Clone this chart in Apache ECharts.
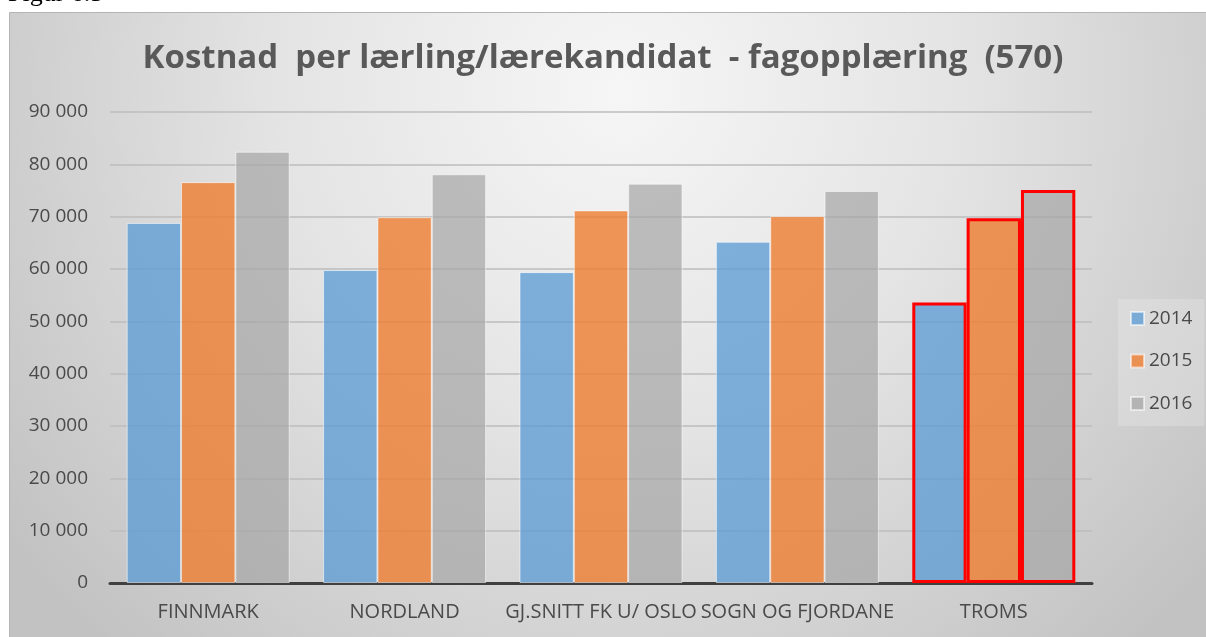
<!DOCTYPE html>
<html>
<head>
<meta charset="utf-8">
<script src="https://cdn.jsdelivr.net/npm/echarts@6/dist/echarts.min.js"></script>
<style>
html,body{margin:0;padding:0;background:#ffffff;}
#chart{width:1206px;height:637px;}
</style>
</head>
<body>
<div id="chart"></div>
<script>
const titleText = 'Kostnad  per lærling/lærekandidat  - fagopplæring  (570)';
const categories = ['FINNMARK', 'NORDLAND', 'GJ.SNITT FK U/ OSLO', 'SOGN OG FJORDANE', 'TROMS'];
const seriesNames = ['2014', '2015', '2016'];
const values2014 = [68800, 59800, 59400, 65200, 53600];
const values2015 = [76600, 69900, 71200, 70100, 69700];
const values2016 = [82400, 78100, 76300, 74900, 75100];
const highlighted = ['TROMS'];
const yTicks = [0, 10000, 20000, 30000, 40000, 50000, 60000, 70000, 80000, 90000];

const colors = ['rgba(91,155,213,0.76)', 'rgba(237,125,49,0.8)', 'rgba(165,165,165,0.7)'];
const allValues = [values2014, values2015, values2016];

const chart = echarts.init(document.getElementById('chart'));
const fmt = v => String(v).replace(/\B(?=(\d{3})+(?!\d))/g, ' ');

const series = seriesNames.map((name, si) => ({
  name: name,
  type: 'bar',
  barGap: '0%',
  barCategoryGap: '17%',
  itemStyle: { color: colors[si], borderColor: 'rgba(255,255,255,0.55)', borderWidth: 1 },
  data: allValues[si].map((v, i) => highlighted.includes(categories[i])
    ? { value: v, itemStyle: { borderColor: '#ff0000', borderWidth: 3 } }
    : v)
}));

chart.setOption({
  animation: false,
  backgroundColor: '#ffffff',
  graphic: [
    {
      type: 'rect', z: -100, silent: true,
      shape: { x: 9.5, y: 12.5, width: 1210, height: 640 },
      style: {
        fill: { type: 'radial', x: 620, y: 90, r: 760, global: true,
          colorStops: [{ offset: 0, color: '#f6f6f6' }, { offset: 0.45, color: '#e4e4e4' }, { offset: 1, color: '#c2c2c2' }] },
        stroke: '#b4b4b4', lineWidth: 1
      }
    },
    {
      type: 'text', z: 10, silent: true, left: 8, top: -19,
      style: { text: 'Figur 6.5', font: '26px "Liberation Serif"', fill: '#000000' }
    }
  ],
  title: {
    text: titleText,
    left: 'center',
    top: 33,
    textStyle: { fontFamily: 'Open Sans', fontWeight: 'bold', fontSize: 33, color: '#595959', lineHeight: 42 }
  },
  legend: {
    orient: 'vertical',
    left: 1118,
    top: 299,
    padding: [10, 12, 13, 12],
    itemGap: 23.5,
    itemWidth: 13,
    itemHeight: 13,
    icon: 'rect',
    backgroundColor: 'rgba(255,255,255,0.2)',
    textStyle: { fontFamily: 'Open Sans', fontSize: 19, color: '#4a4a4a', lineHeight: 19 },
    data: seriesNames
  },
  grid: { left: 110, right: 114, top: 112, bottom: 54, containLabel: false },
  xAxis: {
    type: 'category',
    data: categories,
    axisLine: { show: true, lineStyle: { color: '#404040', width: 3 } },
    axisTick: { show: false },
    axisLabel: { interval: 0, margin: 19, fontFamily: 'Open Sans', fontSize: 20, color: '#4a4a4a' }
  },
  yAxis: {
    type: 'value',
    min: 0, max: 90000, interval: 10000,
    axisLine: { show: false },
    axisTick: { show: false },
    splitLine: { show: true, lineStyle: { color: '#bdbdbd', width: 1.5 } },
    axisLabel: { margin: 22, fontFamily: 'Open Sans', fontSize: 19, color: '#4a4a4a',
      formatter: v => yTicks.includes(v) ? fmt(v) : '' }
  },
  series: series
});
</script>
</body>
</html>
